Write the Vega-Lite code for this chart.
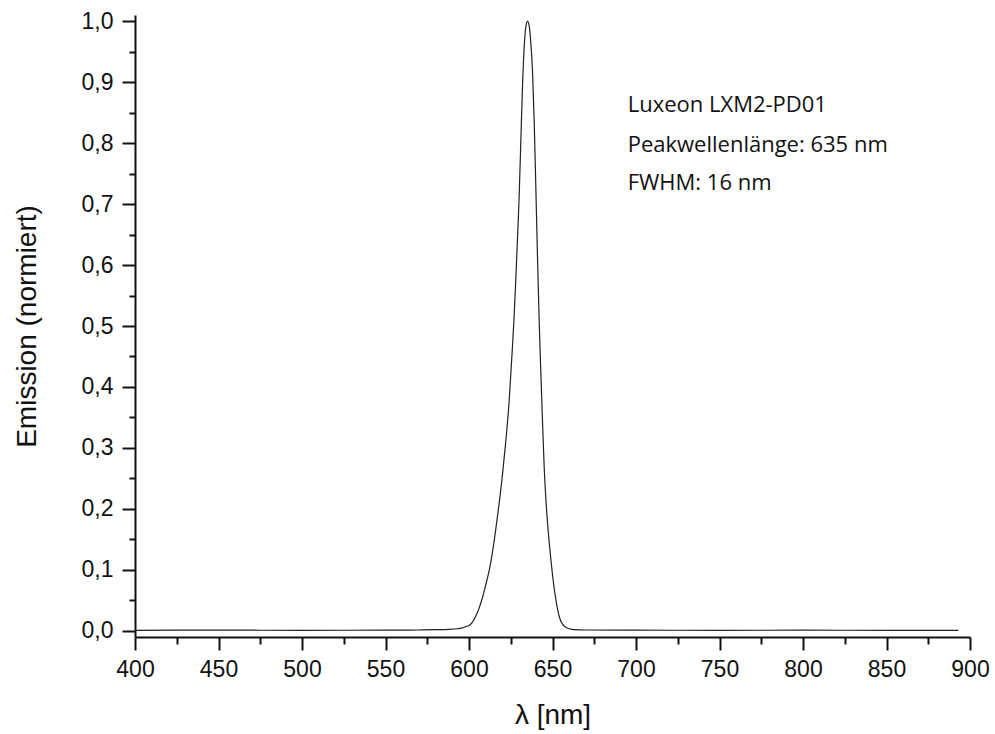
{
  "$schema": "https://vega.github.io/schema/vega-lite/v6.json",
  "width": 835,
  "height": 622,
  "autosize": {"type": "none"},
  "padding": {"left": 135, "top": 15, "right": 25, "bottom": 97},
  "background": "white",
  "config": {"view": {"stroke": null}, "font": "Liberation Sans"},
  "datasets": {
    "spectrum": [
      {"nm": 400, "v": 0.001}, {"nm": 450, "v": 0.0012}, {"nm": 500, "v": 0.001}, {"nm": 550, "v": 0.0012},
      {"nm": 570, "v": 0.0015}, {"nm": 580, "v": 0.002}, {"nm": 588, "v": 0.0025}, {"nm": 593, "v": 0.0035},
      {"nm": 596, "v": 0.005}, {"nm": 598, "v": 0.007}, {"nm": 600, "v": 0.009}, {"nm": 602, "v": 0.014},
      {"nm": 604, "v": 0.024}, {"nm": 606, "v": 0.037}, {"nm": 608, "v": 0.054}, {"nm": 610, "v": 0.075},
      {"nm": 612, "v": 0.098}, {"nm": 614, "v": 0.128}, {"nm": 616, "v": 0.166}, {"nm": 618, "v": 0.208},
      {"nm": 620, "v": 0.255}, {"nm": 622, "v": 0.31}, {"nm": 624, "v": 0.375}, {"nm": 626, "v": 0.465},
      {"nm": 627, "v": 0.515}, {"nm": 628, "v": 0.575}, {"nm": 629, "v": 0.64}, {"nm": 630, "v": 0.71},
      {"nm": 631, "v": 0.80}, {"nm": 632, "v": 0.89}, {"nm": 633, "v": 0.955}, {"nm": 634, "v": 0.99},
      {"nm": 635, "v": 1.0}, {"nm": 636, "v": 0.993}, {"nm": 637, "v": 0.965}, {"nm": 638, "v": 0.92},
      {"nm": 639, "v": 0.84}, {"nm": 640, "v": 0.73}, {"nm": 641, "v": 0.615}, {"nm": 642, "v": 0.51},
      {"nm": 643, "v": 0.425}, {"nm": 644, "v": 0.345}, {"nm": 645, "v": 0.27}, {"nm": 646, "v": 0.218},
      {"nm": 647, "v": 0.178}, {"nm": 648, "v": 0.146}, {"nm": 649, "v": 0.118}, {"nm": 650, "v": 0.092},
      {"nm": 651, "v": 0.07}, {"nm": 652, "v": 0.052}, {"nm": 653, "v": 0.036}, {"nm": 654, "v": 0.024},
      {"nm": 655, "v": 0.016}, {"nm": 656, "v": 0.011}, {"nm": 658, "v": 0.006}, {"nm": 660, "v": 0.0035},
      {"nm": 663, "v": 0.002}, {"nm": 670, "v": 0.0015}, {"nm": 700, "v": 0.0012}, {"nm": 750, "v": 0.001},
      {"nm": 800, "v": 0.0012}, {"nm": 850, "v": 0.001}, {"nm": 893, "v": 0.001}
    ],
    "notes": [
      {"nm": 695, "v": 0.851, "t": "Luxeon LXM2-PD01"},
      {"nm": 695, "v": 0.786, "t": "Peakwellenlänge: 635 nm"},
      {"nm": 695, "v": 0.723, "t": "FWHM: 16 nm"}
    ]
  },
  "layer": [
    {
      "data": {"name": "spectrum"},
      "mark": {"type": "line", "color": "#222222", "strokeWidth": 1.2, "interpolate": "monotone", "clip": true},
      "encoding": {
        "x": {
          "field": "nm", "type": "quantitative",
          "scale": {"domain": [400, 900], "nice": false, "zero": false},
          "axis": {
            "title": "λ [nm]", "titleFontSize": 28, "titleFontWeight": "normal", "titleColor": "#111",
            "titlePadding": 20,
            "values": [400, 450, 500, 550, 600, 650, 700, 750, 800, 850, 900],
            "grid": false, "tickSize": 13, "tickWidth": 2, "tickColor": "#111",
            "domainWidth": 2, "domainColor": "#111",
            "labelFontSize": 23, "labelColor": "#111", "labelPadding": 8, "labelFlush": false
          }
        },
        "y": {
          "field": "v", "type": "quantitative",
          "scale": {"domain": [-0.01, 1.01], "nice": false, "zero": false},
          "axis": {
            "title": "Emission (normiert)", "titleFontSize": 28, "titleFontWeight": "normal", "titleColor": "#111",
            "titlePadding": 40,
            "values": [0, 0.1, 0.2, 0.3, 0.4, 0.5, 0.6, 0.7, 0.8, 0.9, 1.0],
            "labelExpr": "replace(format(datum.value, '.1f'), '.', ',')",
            "grid": false, "tickSize": 13, "tickWidth": 2, "tickColor": "#111",
            "domainWidth": 2, "domainColor": "#111",
            "labelFontSize": 23, "labelColor": "#111", "labelPadding": 9, "labelFlush": false
          }
        }
      }
    },
    {
      "data": {"name": "notes"},
      "mark": {"type": "text", "align": "left", "baseline": "alphabetic", "font": "Open Sans", "fontSize": 22, "color": "#111111"},
      "encoding": {
        "x": {
          "field": "nm", "type": "quantitative",
          "axis": {
            "orient": "bottom", "title": null, "labels": false, "domain": false, "grid": false,
            "values": [425, 475, 525, 575, 625, 675, 725, 775, 825, 875],
            "tickSize": 7, "tickWidth": 2, "tickColor": "#111"
          }
        },
        "y": {
          "field": "v", "type": "quantitative",
          "axis": {
            "orient": "left", "title": null, "labels": false, "domain": false, "grid": false,
            "values": [0.05, 0.15, 0.25, 0.35, 0.45, 0.55, 0.65, 0.75, 0.85, 0.95],
            "tickSize": 6, "tickWidth": 2, "tickColor": "#111"
          }
        },
        "text": {"field": "t"}
      }
    }
  ],
  "resolve": {"axis": {"x": "independent", "y": "independent"}}
}
